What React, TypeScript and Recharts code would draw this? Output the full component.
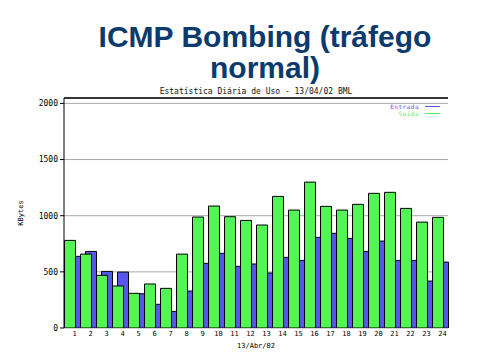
import * as React from "react"
import {
  BarChart,
  Bar,
  XAxis,
  YAxis,
  CartesianGrid,
  Legend,
  ReferenceLine,
  Label,
} from "recharts"

const HOURS = [
  "1", "2", "3", "4", "5", "6", "7", "8", "9", "10", "11", "12",
  "13", "14", "15", "16", "17", "18", "19", "20", "21", "22", "23", "24",
]

// Entrada (azul) e Saída (verde)
const ENTRADA = [638, 682, 504, 498, 305, 211, 148, 329, 576, 665, 549, 570, 490, 629, 602, 807, 843, 798, 682, 774, 602, 602, 418, 587]
const SAIDA = [780, 658, 469, 374, 309, 392, 353, 658, 988, 1086, 991, 958, 917, 1172, 1050, 1299, 1083, 1050, 1101, 1199, 1208, 1065, 943, 985]

const Y_TICKS = [0, 500, 1000, 1500, 2000]
const Y_MAX = 2048

const TITLE_1 = "ICMP Bombing (tráfego"
const TITLE_2 = "normal)"
const SUBTITLE = "Estatística Diária de Uso - 13/04/02 BML"
const X_LABEL = "13/Abr/02"
const Y_LABEL = "KBytes"

const BLUE = "#5757ee"
const GREEN = "#57f257"
const PIXEL_FONT = "'DejaVu Sans Mono', monospace"

const data = HOURS.map((hora, i) => ({ hora, entrada: ENTRADA[i], saida: SAIDA[i] }))

function renderLegend(props: any) {
  const payload = props.payload ?? []
  return (
    <div style={{ fontFamily: PIXEL_FONT, fontSize: 6, lineHeight: "7px" }}>
      {payload.map((entry: any) => (
        <div key={entry.value} style={{ display: "flex", justifyContent: "flex-end", alignItems: "center" }}>
          <span style={{ color: entry.color, letterSpacing: 0.5 }}>{entry.value}</span>
          <span style={{ display: "inline-block", width: 15, height: 1, background: entry.color, marginLeft: 6 }} />
        </div>
      ))}
    </div>
  )
}

export default function App() {
  return (
    <div style={{ position: "relative", width: 480, height: 360, background: "#fff" }}>
      <style>{"body{margin:0}"}</style>
      <div
        style={{
          position: "absolute",
          top: 21,
          left: 0,
          width: 530,
          textAlign: "center",
          fontFamily: "'Liberation Sans', Arial, sans-serif",
          fontWeight: "bold",
          fontSize: 30,
          lineHeight: "31px",
          color: "#0b3a6c",
        }}
      >
        <div>{TITLE_1}</div>
        <div>{TITLE_2}</div>
      </div>
      <BarChart
        width={480}
        height={360}
        data={data}
        margin={{ top: 98, right: 32, bottom: 12, left: 0 }}
        barCategoryGap={0}
      >
        <CartesianGrid xAxisId="entrada" vertical={false} stroke="#a8a8a8" />
        <XAxis
          xAxisId="entrada"
          dataKey="hora"
          padding={{ left: 2.5, right: -2.5 }}
          axisLine={false}
          tickLine={false}
          interval={0}
          height={20}
          tickMargin={-3}
          tick={{ fontSize: 7, fill: "#000", fontFamily: PIXEL_FONT }}
        >
          <Label
            value={X_LABEL}
            position="insideBottom"
            offset={0}
            style={{ fontSize: 7, fill: "#000", fontFamily: PIXEL_FONT }}
          />
        </XAxis>
        <XAxis xAxisId="saida" dataKey="hora" hide padding={{ left: -2.5, right: 2.5 }} />
        <YAxis
          width={64}
          domain={[0, Y_MAX]}
          ticks={Y_TICKS}
          allowDataOverflow
          stroke="#000"
          tickSize={4}
          tickMargin={2}
          tick={{ fontSize: 8, fill: "#000", fontFamily: PIXEL_FONT }}
        >
          <Label
            value={Y_LABEL}
            angle={-90}
            position="insideLeft"
            offset={21}
            style={{ fontSize: 7, fill: "#000", fontFamily: PIXEL_FONT, textAnchor: "middle" }}
          />
        </YAxis>
        <ReferenceLine xAxisId="entrada" y={Y_MAX} stroke="#000" strokeWidth={1.5}>
          <Label
            value={SUBTITLE}
            position="top"
            offset={4}
            style={{ fontSize: 8, fill: "#111", fontFamily: PIXEL_FONT }}
          />
        </ReferenceLine>
        <Legend
          layout="vertical"
          align="center"
          verticalAlign="middle"
          content={renderLegend}
          wrapperStyle={{ top: 103, left: 380, width: 60 }}
        />
        <Bar
          xAxisId="entrada"
          dataKey="entrada"
          name="Entrada"
          fill={BLUE}
          stroke="#000"
          strokeWidth={1}
          barSize={11}
          isAnimationActive={false}
        />
        <Bar
          xAxisId="saida"
          dataKey="saida"
          name="Saída"
          fill={GREEN}
          stroke="#000"
          strokeWidth={1}
          barSize={11}
          isAnimationActive={false}
        />
      </BarChart>
    </div>
  )
}
